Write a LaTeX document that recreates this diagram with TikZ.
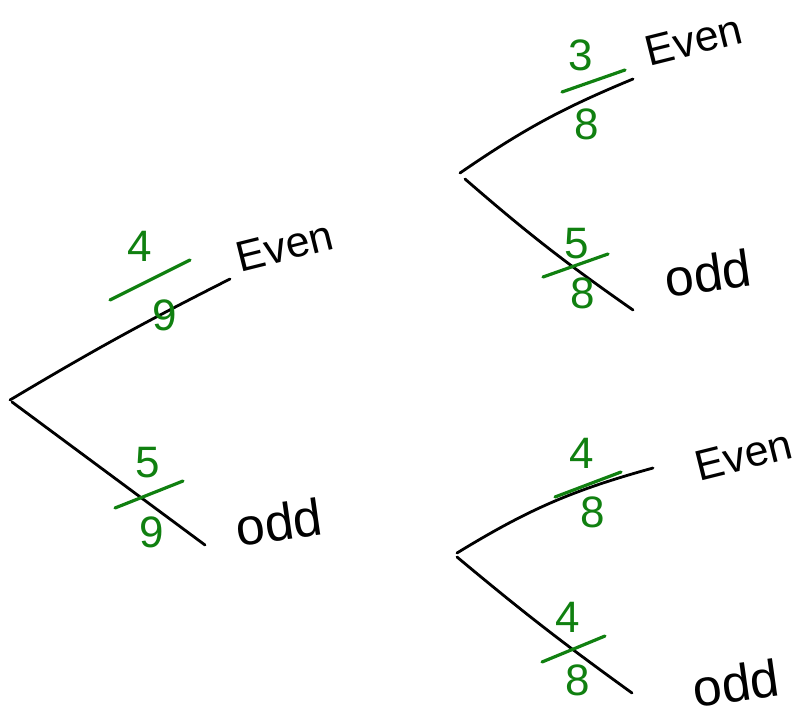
\documentclass[tikz,border=0pt]{standalone}
\usepackage{fontspec}
\setmainfont{Liberation Sans}
\definecolor{handgreen}{RGB}{16,128,16}
\tikzset{
  branch/.style={line width=2.8pt, line cap=round, draw=black},
  fracbar/.style={line width=3.2pt, line cap=round, draw=handgreen},
  digit/.style={text=handgreen, font=\fontsize{44}{44}\selectfont, inner sep=0pt},
  evenword/.style={font=\fontsize{43}{43}\selectfont, inner sep=0pt, rotate=14},
  oddword/.style={font=\fontsize{52}{52}\selectfont, inner sep=0pt, rotate=8},
}
\begin{document}
\begin{tikzpicture}[x=1pt,y=-1pt]
\useasboundingbox (0,0) rectangle (800,723);
% tree points
\coordinate (r1) at (10,400);
\coordinate (r1b) at (12,402);
\coordinate (e1) at (230,279);
\coordinate (o1) at (205,545);
\coordinate (r2) at (460,173);
\coordinate (r2b) at (465,179);
\coordinate (e2) at (633,79);
\coordinate (o2) at (633,310);
\coordinate (r3) at (457,553);
\coordinate (r3b) at (457,557);
\coordinate (e3) at (653,468);
\coordinate (o3) at (632,693);
% branches
\draw[branch] (r1) to[bend left=2] (e1);
\draw[branch] (r1b) -- (o1);
\draw[branch] (r2) to[bend left=6] (e2);
\draw[branch] (r2b) to[bend right=3] (o2);
\draw[branch] (r3) to[bend left=8] (e3);
\draw[branch] (r3b) to[bend right=2] (o3);
% outcome labels
\node[evenword] (t1) at (285,246) {Even};
\node[oddword] (u1) at (279,522) {odd};
\node[evenword] (t2) at (694,40) {Even};
\node[oddword] (u2) at (708,273) {odd};
\node[evenword] (t3) at (744,455) {Even};
\node[oddword] (u3) at (736,683) {odd};
% fractions
\node[digit] (n1) at (140,246) {4};
\coordinate (b1a) at (110,300); \coordinate (b1b) at (190,260);
\draw[fracbar] (b1a) -- (b1b);
\node[digit] (d1) at (165,315) {9};

\node[digit] (n2) at (148,463) {5};
\coordinate (b2a) at (115,508); \coordinate (b2b) at (183,481);
\draw[fracbar] (b2a) -- (b2b);
\node[digit] (d2) at (152,532) {9};

\node[digit] (n3) at (581,55) {3};
\coordinate (b3a) at (562,92); \coordinate (b3b) at (625,70);
\draw[fracbar] (b3a) -- (b3b);
\node[digit] (d3) at (587,124) {8};

\node[digit] (n4) at (577,244) {5};
\coordinate (b4a) at (543,277); \coordinate (b4b) at (608,254);
\draw[fracbar] (b4a) -- (b4b);
\node[digit] (d4) at (583,293) {8};

\node[digit] (n5) at (582,453) {4};
\coordinate (b5a) at (555,497); \coordinate (b5b) at (621,472);
\draw[fracbar] (b5a) -- (b5b);
\node[digit] (d5) at (593,512) {8};

\node[digit] (n6) at (568,617) {4};
\coordinate (b6a) at (542,662); \coordinate (b6b) at (605,636);
\draw[fracbar] (b6a) -- (b6b);
\node[digit] (d6) at (578,680) {8};
\end{tikzpicture}
\end{document}
